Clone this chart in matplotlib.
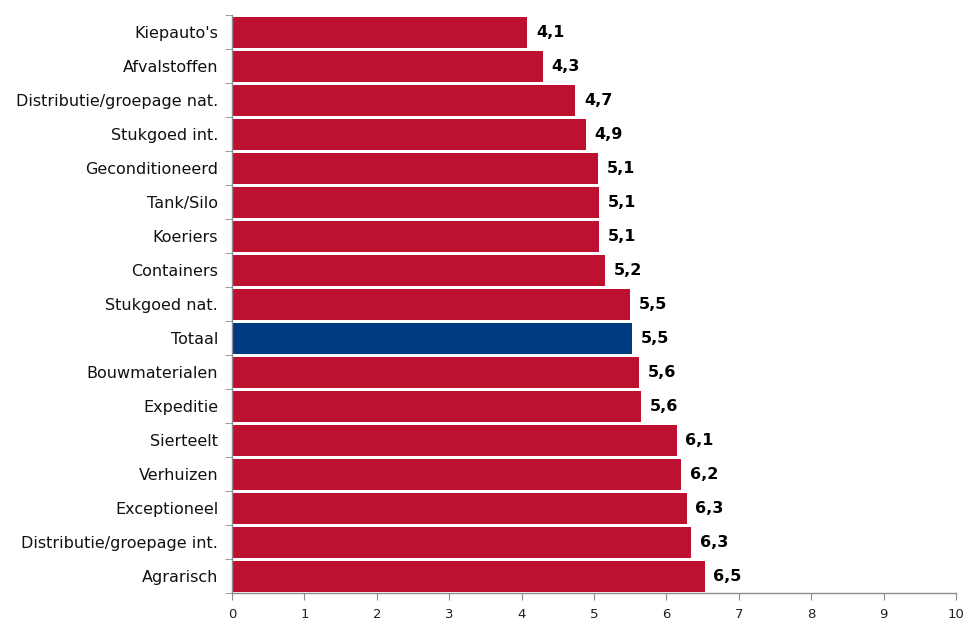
import numpy as np
import matplotlib
matplotlib.use("Agg")
import matplotlib.pyplot as plt
from matplotlib.ticker import FixedLocator, NullFormatter

# Data (top to bottom)
categories = ["Kiepauto's", "Afvalstoffen", "Distributie/groepage nat.", "Stukgoed int.",
              "Geconditioneerd", "Tank/Silo", "Koeriers", "Containers", "Stukgoed nat.",
              "Totaal", "Bouwmaterialen", "Expeditie", "Sierteelt", "Verhuizen",
              "Exceptioneel", "Distributie/groepage int.", "Agrarisch"]
values = [4.08, 4.29, 4.74, 4.89, 5.05, 5.07, 5.07, 5.15, 5.50,
          5.52, 5.62, 5.65, 6.14, 6.20, 6.28, 6.34, 6.53]
labels = ["4,1", "4,3", "4,7", "4,9", "5,1", "5,1", "5,1", "5,2", "5,5",
          "5,5", "5,6", "5,6", "6,1", "6,2", "6,3", "6,3", "6,5"]
xticks = list(range(0, 11))

RED = "#BE1030"
BLUE = "#003A80"
GRAY = "#8C8C8C"

fig = plt.figure(figsize=(9.75, 6.35), dpi=100)
ax = fig.add_axes([0.238, 0.066, 0.7425, 0.910])

y = np.arange(len(categories))
colors = [BLUE if c == "Totaal" else RED for c in categories]
ax.barh(y, values, height=0.91, color=colors, edgecolor="none")

for yi, v, lab in zip(y, values, labels):
    ax.text(v + 0.12, yi, lab, va="center", ha="left", fontsize=11.5,
            fontweight="bold", family="DejaVu Sans", color="black")

ax.set_ylim(len(categories) - 0.5, -0.5)
ax.set_xlim(0, 10)
ax.set_yticks(y)
ax.set_yticklabels(categories, fontsize=11.5, family="DejaVu Sans", color="#111111")
ax.tick_params(axis="y", which="major", length=0, pad=10)
ax.yaxis.set_minor_locator(FixedLocator(np.arange(-0.5, len(categories), 1.0)))
ax.yaxis.set_minor_formatter(NullFormatter())
ax.tick_params(axis="y", which="minor", length=5, color=GRAY, direction="out")

ax.set_xticks(xticks)
ax.set_xticklabels([str(t) for t in xticks], fontsize=9.5, family="DejaVu Sans",
                   color="#222222")
ax.tick_params(axis="x", length=5, color=GRAY, direction="out", pad=6)

for s in ["top", "right"]:
    ax.spines[s].set_visible(False)
for s in ["left", "bottom"]:
    ax.spines[s].set_color(GRAY)
    ax.spines[s].set_linewidth(1.0)

fig.savefig("out.png", dpi=100)
